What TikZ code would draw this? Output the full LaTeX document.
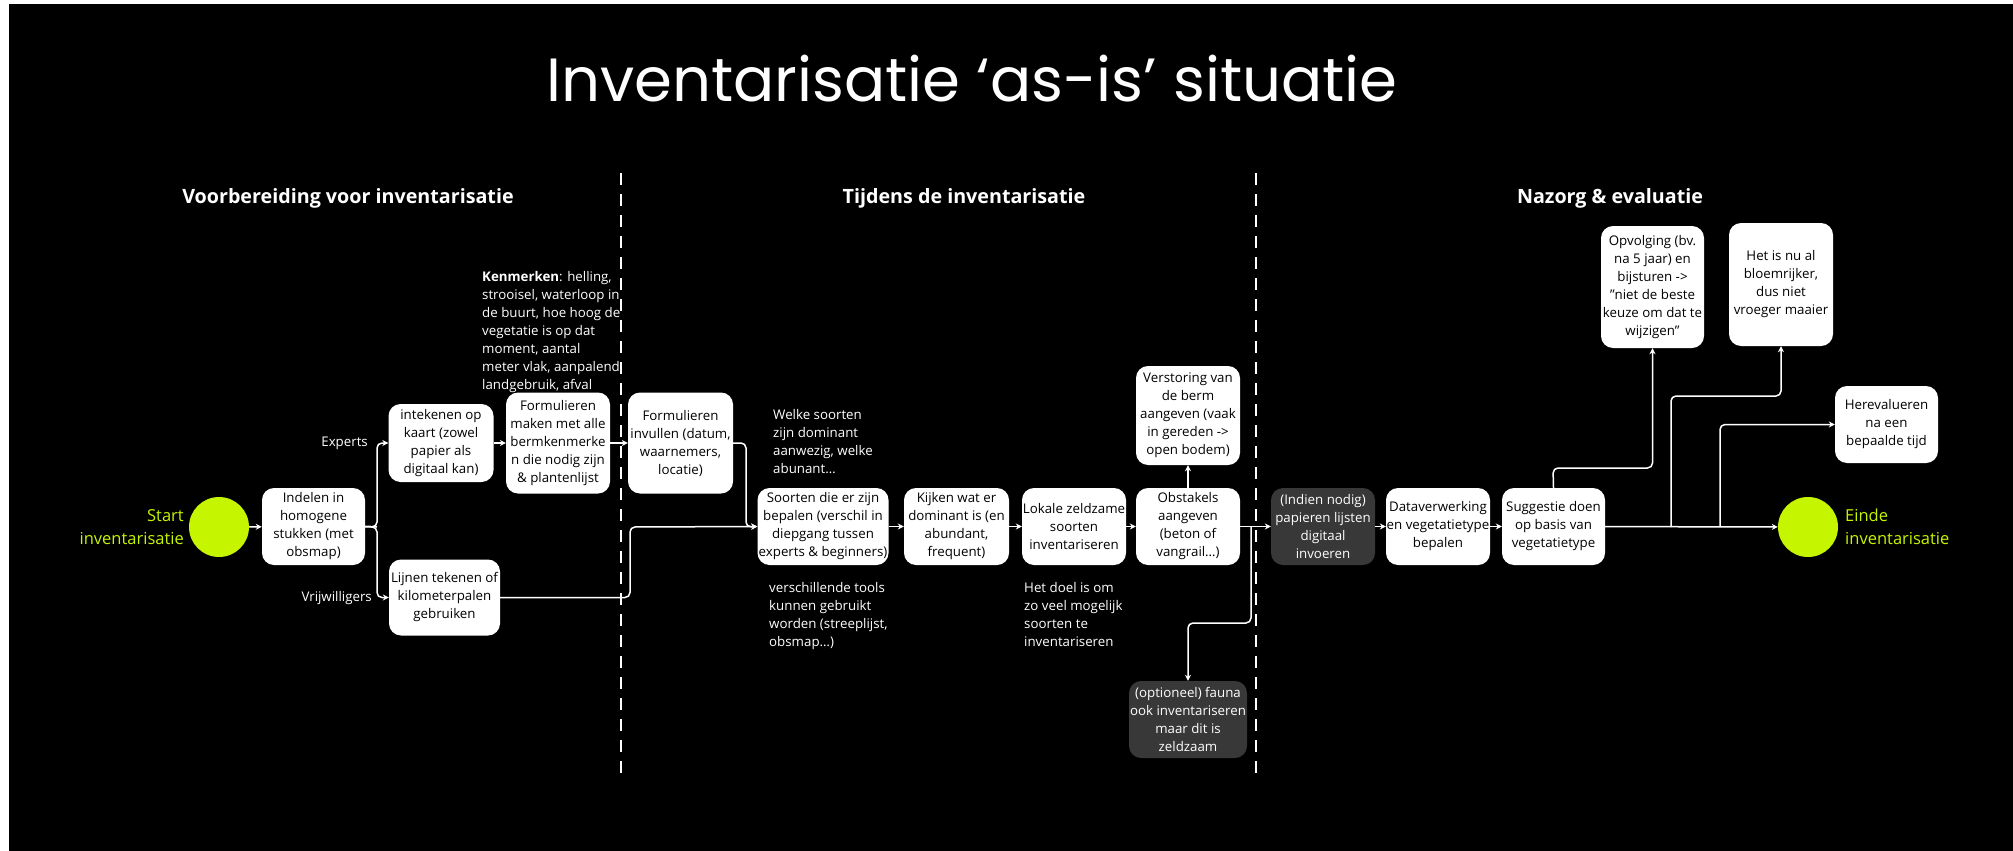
\documentclass[tikz,border=0pt]{standalone}
\usepackage{fontspec}
\setmainfont{Open Sans}
\newfontfamily\ttlfont{Poppins}
\usetikzlibrary{arrows.meta}
\definecolor{limeg}{HTML}{C6F500}
\definecolor{darkbox}{HTML}{383838}
\newcommand\bfnt{\fontsize{13.3}{18}\selectfont}
\newcommand\sq{\symbol{34}}
\tikzset{
  box/.style={fill=white, text=black, rounded corners=12pt, align=center, inner sep=0pt, font=\bfnt},
  dbox/.style={box, fill=darkbox, text=white},
  lbl/.style={text=white, align=left, inner sep=0pt, font=\bfnt, anchor=north west},
  conn/.style={draw=white, line width=1.5pt, rounded corners=5pt, -{Stealth[length=6pt,width=6pt]}},
  plain/.style={draw=white, line width=1.5pt, rounded corners=5pt},
  sect/.style={text=white, inner sep=0pt, font=\bfseries\fontsize{19.7}{23}\selectfont},
  divider/.style={draw=white, line width=2.5pt, dash pattern=on 12pt off 9pt},
  term/.style={circle, fill=limeg, minimum size=60pt, inner sep=0pt},
  termlbl/.style={text=limeg, inner sep=0pt, font=\fontsize{16.5}{23}\selectfont}
}
\begin{document}
\begin{tikzpicture}[x=1pt,y=-1pt]
\useasboundingbox (0,0) rectangle (2013,851);
\fill[white] (0,0) rectangle (2013,851);
\fill[black] (9,4) rectangle (2013,851);

% title
\node[text=white, inner sep=0pt, anchor=base, font=\ttlfont\fontsize{61}{66}\selectfont] (title) at (972,101) {Inventarisatie ‘as-is’ situatie};

% section headers
\node[sect] (s1) at (348,198) {Voorbereiding voor inventarisatie};
\node[sect] (s2) at (964,198) {Tijdens de inventarisatie};
\node[sect] (s3) at (1610,198) {Nazorg \& evaluatie};

% dividers
\draw[divider] (621,173) -- (621,778);
\draw[divider] (1256,173) -- (1256,778);

% start
\node[term] (startc) at (219,527) {};
\node[termlbl, align=right, anchor=east] (startl) at (184,527) {Start\\inventarisatie};

% boxes
\node[box, minimum width=103pt, minimum height=77pt] (indelen) at (313.5,526.5) {Indelen in\\homogene\\stukken (met\\obsmap)};
\node[box, minimum width=105pt, minimum height=78pt] (intekenen) at (441,443) {intekenen op\\kaart (zowel\\papier als\\digitaal kan)};
\node[box, minimum width=104pt, minimum height=101pt] (formmaken) at (558,443) {Formulieren\\maken met alle\\bermkenmerke\\n die nodig zijn\\\& plantenlijst};
\node[box, minimum width=105pt, minimum height=101pt] (forminv) at (680.5,443) {Formulieren\\invullen (datum,\\waarnemers,\\locatie)};
\node[box, minimum width=111pt, minimum height=76pt] (lijnen) at (444.5,597.5) {Lijnen tekenen of\\kilometerpalen\\gebruiken};
\node[box, minimum width=131pt, minimum height=77pt] (soorten) at (823,526.5) {Soorten die er zijn\\bepalen (verschil in\\diepgang tussen\\experts \& beginners)};
\node[box, minimum width=105pt, minimum height=77pt] (kijken) at (956.5,526.5) {Kijken wat er\\dominant is (en\\abundant,\\frequent)};
\node[box, minimum width=104pt, minimum height=77pt] (lokale) at (1074,526.5) {Lokale zeldzame\\soorten\\inventariseren};
\node[box, minimum width=104pt, minimum height=77pt] (obstakels) at (1188,526.5) {Obstakels\\aangeven\\(beton of\\vangrail…)};
\node[box, minimum width=104pt, minimum height=99pt] (verstoring) at (1188,415.5) {Verstoring van\\de berm\\aangeven (vaak\\in gereden ->\\open bodem)};
\node[dbox, minimum width=104pt, minimum height=77pt] (indien) at (1323,526.5) {(Indien nodig)\\papieren lijsten\\digitaal\\invoeren};
\node[dbox, minimum width=118pt, minimum height=77pt] (fauna) at (1188,719.5) {(optioneel) fauna\\ook inventariseren\\maar dit is\\zeldzaam};
\node[box, minimum width=104pt, minimum height=77pt] (data) at (1438,526.5) {Dataverwerking\\en vegetatietype\\bepalen};
\node[box, minimum width=103pt, minimum height=77pt] (sugg) at (1553.5,526.5) {Suggestie doen\\op basis van\\vegetatietype};
\node[box, minimum width=103pt, minimum height=122pt] (opvolg) at (1652.5,287) {Opvolging (bv.\\na 5 jaar) en\\bijsturen ->\\\sq niet de beste\\keuze om dat te\\wijzigen\sq};
\node[box, minimum width=104pt, minimum height=123pt] (hetisnu) at (1781,284.5) {Het is nu al\\bloemrijker,\\dus niet\\vroeger maaier};
\node[box, minimum width=103pt, minimum height=77pt] (hereval) at (1886.5,424.5) {Herevalueren\\na een\\bepaalde tijd};

% end
\node[term] (eindec) at (1808,527) {};
\node[termlbl, align=left, anchor=west] (eindel) at (1845,527) {Einde\\inventarisatie};

% free labels
\node[lbl] (kenm) at (482,271) {\textbf{Kenmerken}: helling,\\strooisel, waterloop in\\de buurt, hoe hoog de\\vegetatie is op dat\\moment, aantal\\meter vlak, aanpalend\\landgebruik, afval};
\node[lbl] (welke) at (773,409.5) {Welke soorten\\zijn dominant\\aanwezig, welke\\abunant…};
\node[lbl] (tools) at (769,582) {verschillende tools\\kunnen gebruikt\\worden (streeplijst,\\obsmap…)};
\node[lbl] (doel) at (1024,582) {Het doel is om\\zo veel mogelijk\\soorten te\\inventariseren};
\node[text=white, inner sep=0pt, font=\bfnt, anchor=east] (experts) at (368,443) {Experts};
\node[text=white, inner sep=0pt, font=\bfnt, anchor=east] (vrijw) at (372,598) {Vrijwilligers};

% branch coordinates
\coordinate (b1) at (377,527);
\coordinate (b2) at (746,527);
\coordinate (b3) at (630,527);
\coordinate (b4) at (1251,527);
\coordinate (b4d) at (1251,623);
\coordinate (b5) at (1553,468);
\coordinate (b6) at (1671,527);
\coordinate (b6t) at (1671,396);
\coordinate (b7) at (1720,527);

% connectors
\draw[conn] (startc) -- (indelen);
\draw[plain] (indelen.east) -- (b1);
\draw[conn] (indelen.east) -- (b1) |- (intekenen.west);
\draw[conn] (indelen.east) -- (b1) |- (lijnen.west);
\draw[conn] (intekenen.east) -- (intekenen.east -| formmaken.west);
\draw[conn] (formmaken.east) -- (formmaken.east -| forminv.west);
\draw[conn] (forminv.east) -| (b2) -- (soorten.west);
\draw[conn] (lijnen.east) -| (b3) -- (soorten.west);
\draw[conn] (soorten) -- (kijken);
\draw[conn] (kijken) -- (lokale);
\draw[conn] (lokale) -- (obstakels);
\draw[conn] (obstakels) -- (verstoring);
\draw[conn] (obstakels) -- (indien);
\draw[conn] (b4) -- (b4d) -| (fauna.north);
\draw[conn] (indien) -- (data);
\draw[conn] (data) -- (sugg);
\draw[conn] (sugg) -- (eindec);
\draw[conn] (sugg.north) -- (b5) -| (opvolg.south);
\draw[conn] (b6) -- (b6t) -| (hetisnu.south);
\draw[conn] (b7) |- (hereval.west);
\end{tikzpicture}
\end{document}
